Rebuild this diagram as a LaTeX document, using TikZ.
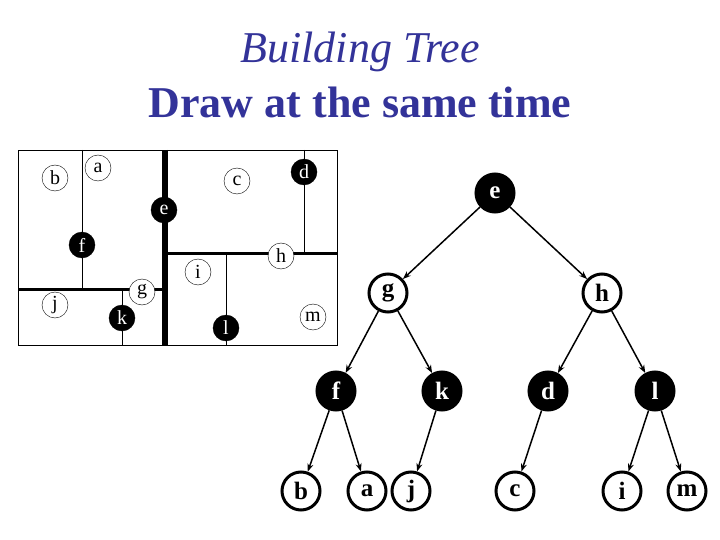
\documentclass[tikz,border=0pt]{standalone}
\usepackage{fontspec}
\setmainfont{Liberation Serif}
\usetikzlibrary{arrows.meta}
\definecolor{ttl}{RGB}{51,51,153}
\begin{document}
\begin{tikzpicture}[x=1pt,y=-1pt,
 pw/.style={circle,draw,fill=white,inner sep=0pt,minimum size=26pt,font=\fontsize{20}{20}\selectfont},
 pb/.style={pw,fill=black,text=white},
 tw/.style={circle,draw,line width=3pt,fill=white,inner sep=0pt,minimum size=38pt,font=\bfseries\fontsize{25}{25}\selectfont},
 tb/.style={tw,fill=black,text=white},
 thin/.style={line width=0.8pt},
 thk/.style={line width=3pt},
 arr/.style={-{Stealth[length=8pt,width=6pt]},line width=1.5pt}]
\useasboundingbox (0,0) rectangle (720,540);
\node[text=ttl,font=\itshape\fontsize{44}{44}\selectfont] (t1) at (360,52) {Building Tree};
\node[text=ttl,font=\bfseries\fontsize{44}{44}\selectfont] (t2) at (360,102) {Draw at the same time};
% panel
\draw[thin] (18,150) rectangle (337,345);
\draw[thin] (82,150) -- (82,289);
\draw[thin] (122,289) -- (122,345);
\draw[thin] (304,150) -- (304,253);
\draw[thin] (226,253) -- (226,345);
\draw[thk] (18,289) -- (165,289);
\draw[thk] (165,253) -- (337,253);
\draw[line width=6pt] (165,150) -- (165,345);
\node[pw] (pb) at (55,178) {b};
\node[pw] (pa) at (98,168) {a};
\node[pb] (pe) at (164,210) {e};
\node[pw] (pc) at (237,181) {c};
\node[pb] (pd) at (304,172) {d};
\node[pb] (pf) at (82,245) {f};
\node[pw] (ph) at (281,256) {h};
\node[pw] (pi) at (198,272) {i};
\node[pw] (pg) at (142,292) {g};
\node[pw] (pj) at (55,305) {j};
\node[pb] (pk) at (122,318) {k};
\node[pb] (pl) at (226,328) {l};
\node[pw] (pm) at (313,317) {m};
% tree
\node[tb] (e) at (495,193) {e};
\node[tw] (g) at (388,293) {g};
\node[tw] (h) at (602,293) {h};
\node[tb] (f) at (336,391) {f};
\node[tb] (k) at (442,391) {k};
\node[tb] (d) at (548,391) {d};
\node[tb] (l) at (655,391) {l};
\node[tw] (b) at (301,491) {b};
\node[tw] (a) at (367,491) {a};
\node[tw] (j) at (411,491) {j};
\node[tw] (c) at (515,491) {c};
\node[tw] (i) at (622,491) {i};
\node[tw] (m) at (687,491) {m};
\foreach \u/\v in {e/g,e/h,g/f,g/k,h/d,h/l,f/b,f/a,k/j,d/c,l/i,l/m}
  \draw[arr] (\u) -- (\v);
\end{tikzpicture}
\end{document}
